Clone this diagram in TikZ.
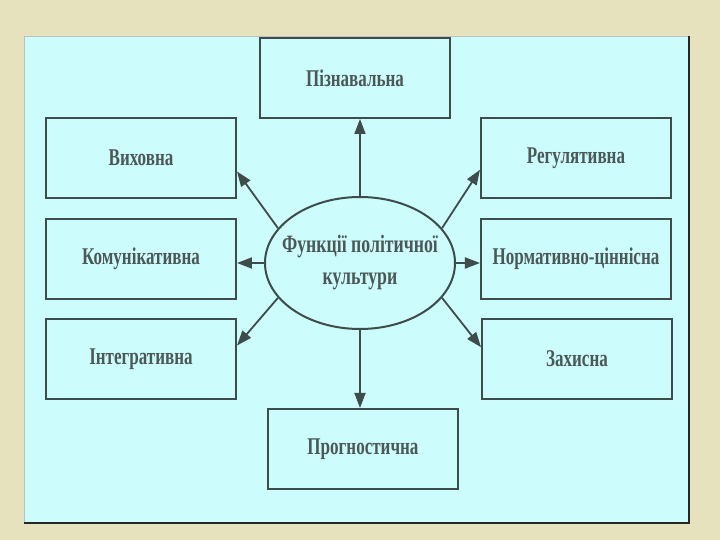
\documentclass[tikz,border=0pt]{standalone}
\usepackage{fontspec}
\setmainfont{Liberation Serif}[FakeStretch=0.71]
\usetikzlibrary{shapes.geometric}
\usetikzlibrary{arrows.meta}

\definecolor{slidebg}{HTML}{E6E2BE}
\definecolor{panelbg}{HTML}{CCFCFC}
\definecolor{inkline}{HTML}{3E4C4C}
\definecolor{inktext}{HTML}{4C5858}

\begin{document}
\begin{tikzpicture}[x=0.5pt, y=-0.5pt,
    func box/.style={draw=inkline, line width=1pt, minimum width=95pt, minimum height=40pt,
        inner sep=0pt, text=inktext, font=\fontsize{12}{13}\selectfont\bfseries},
    func arrow/.style={draw=inkline, line width=0.9pt, -{Triangle[length=7.5pt,width=5.5pt]}}]

    % slide and panel
    \fill[slidebg] (0,0) rectangle (720,540);
    \fill[panelbg] (24,36) rectangle (689,523);
    \draw[gray!50, line width=0.4pt] (24,523) -- (24,36) -- (689,36);
    \draw[black!85, line width=0.7pt] (689,36) -- (689,523) -- (24,523);

    \node[func box] (pizn) at (355,78) {Пізнавальна};
    \node[func box] (vykh) at (141,158) {Виховна};
    \node[func box] (komun) at (141,259) {Комунікативна};
    \node[func box] (integr) at (141,359) {Інтегративна};
    \node[func box] (regul) at (576,158) {Регулятивна};
    \node[func box] (norm) at (576,259) {Нормативно-ціннісна};
    \node[func box] (zakh) at (577,359) {Захисна};
    \node[func box] (progn) at (363,449) {Прогностична};

    \node[draw=inkline, ellipse, line width=1pt, minimum width=95pt, minimum height=66pt,
        inner sep=0pt] (func) at (360,263) {};
    \node[align=center, text=inktext, font=\fontsize{12.5}{16}\selectfont\bfseries]
        (functext) at (func.center) {Функції політичної\\культури};

    \draw[func arrow] (func.north) -- (func.north |- pizn.south);
    \draw[func arrow] (func.south) -- (func.south |- progn.north);
    \draw[func arrow] (func.west) -- (func.west -| komun.east);
    \draw[func arrow] (func.east) -- (func.east -| norm.west);
    \draw[func arrow] (func.157) -- (vykh.-8);
    \draw[func arrow] (func.203) -- (integr.8);
    \draw[func arrow] (func.23) -- (regul.187);
    \draw[func arrow] (func.-23) -- (zakh.173);

\end{tikzpicture}
\end{document}
